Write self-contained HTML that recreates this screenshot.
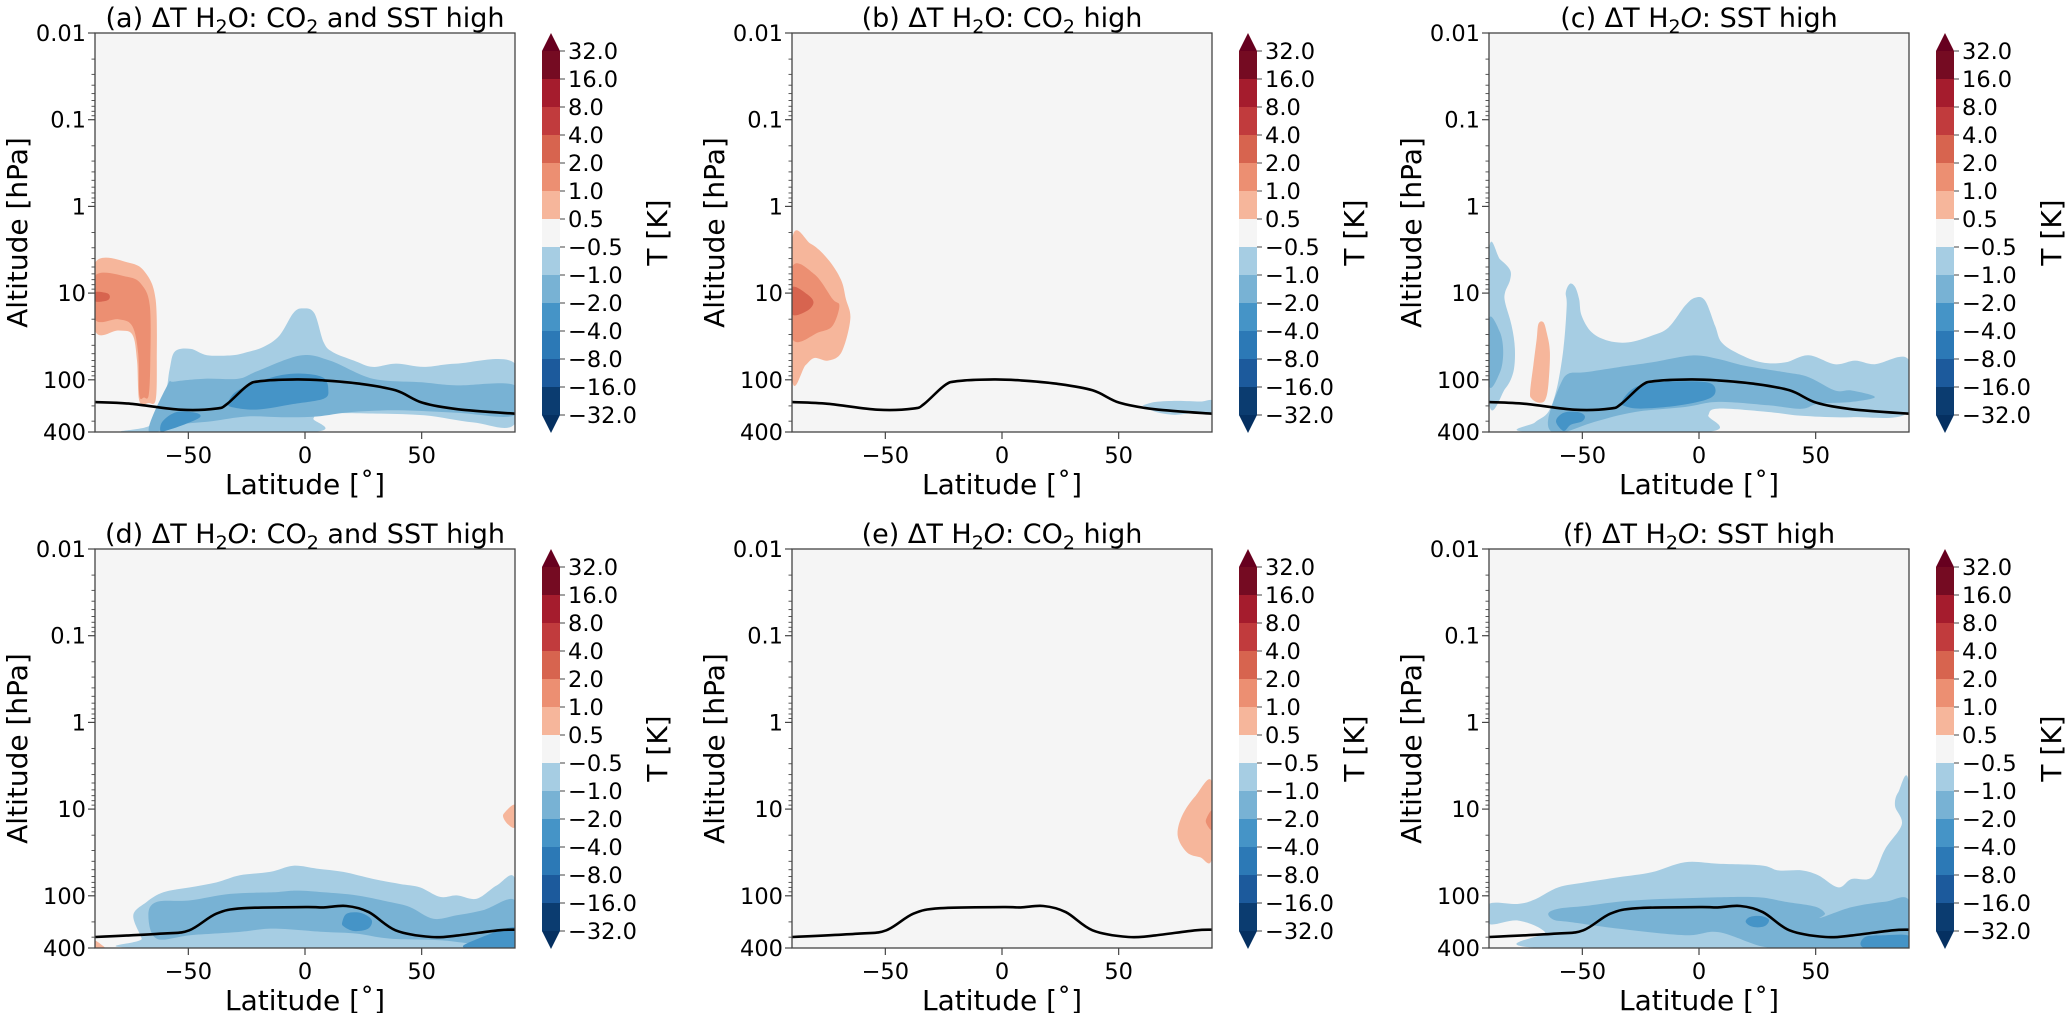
<!DOCTYPE html>
<html><head><meta charset="utf-8"><title>Delta T H2O panels</title>
<style>
html,body{margin:0;padding:0;background:#fff;}
svg{display:block;font-family:"DejaVu Sans","Liberation Sans",sans-serif;}
</style></head>
<body>
<svg id="fig" xmlns="http://www.w3.org/2000/svg" width="2067" height="1013" viewBox="0 0 2067 1013"></svg>
<script>
// ---------- data (latitude [deg], pressure [hPa]) ----------
const bandColors = ['#0b3c70','#1c5a9c','#2c79b6','#4594c7','#78b2d4','#a6cde3','#f5f5f5','#f6b69b','#ec8f72','#d7644f','#c13b3d','#a51c2d','#750b22'];
const cbTickLabels = ['32.0','16.0','8.0','4.0','2.0','1.0','0.5','\u22120.5','\u22121.0','\u22122.0','\u22124.0','\u22128.0','\u221216.0','\u221232.0'];
const yTickValues = [0.01,0.1,1,10,100,400];
const yTickLabels = ['0.01','0.1','1','10','100','400'];
const xTickValues = [-50,0,50];
const xTickLabels = ['\u221250','0','50'];

const tropoRow1 = [[-90,181],[-74.6,189],[-53.4,221],[-38,215],[-33.3,189],[-24.6,116],[-18.9,103.5],[-3.5,99],[8,101.6],[23.4,111],[38.8,132],[50.4,184],[65.7,219],[90,246]];
const tropoRow2 = [[-90,299],[-61,273],[-49.6,250],[-38,161],[-26.5,139],[0.4,135],[8,136],[17.7,131],[27.3,154],[38.8,250],[54.2,299],[65.7,286],[83,250],[90,246]];

// panel a
const aBlueLight = [[-75,400],[-66,330],[-60,150],[-58,75],[-55.7,47],[-49,44],[-42,52],[-31,52],[-25,48],[-18,42],[-11,31],[-5,17],[-1,15],[4,17],[8,37],[12,48],[21,60],[29,71],[39,65],[51,71],[65,65],[90,65],[90,320],[72,310],[51,257],[29,245],[8,245],[3.6,280],[3,400]];
const aBlueMid = [[-67,390],[-59,116],[-56,105],[-43,97],[-28.6,97],[-20.7,80],[-2,52.5],[10.7,60],[29,97],[50,107],[65,116],[90,116],[90,257],[65,240],[40,225],[20,235],[5,265],[-10,270],[-25,265],[-40,300],[-55,330]];
const aBlueDark1 = [[-62,390],[-61,300],[-55,235],[-47,240],[-45,270],[-52,330],[-60,390]];
const aBlueDark2 = [[-33,190],[-30,140],[-22,110],[-10,88],[0,85],[8,95],[10,130],[8,165],[-5,190],[-20,220],[-30,210]];
const aRedOuter = [[-90,4.5],[-75,4.5],[-68,6],[-64,12],[-63.5,60],[-64,170],[-67,185],[-71,175],[-72,60],[-74,30],[-80,27],[-90,27]];
const aRedMid = [[-90,6.3],[-76,6.5],[-70,8],[-66.5,14],[-66.3,60],[-67,150],[-69,160],[-71,150],[-71.5,50],[-74,24],[-80,20],[-90,20]];
const aRedInner = [[-90,9.8],[-85,10],[-83.6,11],[-85,12.2],[-90,12.4]];

// panel b
const bRedOuter = [[-90,2.44],[-82,2.7],[-74.6,4.06],[-69,7],[-66.9,11.7],[-65,20],[-68.8,48],[-74.6,60],[-80.4,56],[-84.2,68],[-90,97.5]];
const bRedMid = [[-90,5.07],[-80.4,6.05],[-72.6,11.7],[-69.7,14],[-72.6,23.8],[-78.5,28.3],[-90,33.2]];
const bRedInner = [[-90,8.6],[-83.5,10.3],[-80.8,12.8],[-83.5,16],[-90,17.4]];
const bBlueLight = [[60.9,195],[66,180],[75,175],[85,178],[90,173],[90,235],[80,245],[73.4,253],[66,235],[60.9,201]];

// panel c
const cBlueLight = [[-73.1,400],[-70.3,310],[-64.6,235],[-61,127],[-58.1,44],[-56.7,14],[-57.1,9.8],[-55.3,7.8],[-53.1,8.5],[-51.4,11.7],[-50.3,18.2],[-46,28.3],[-38.9,35.5],[-30.3,37],[-20.3,31],[-13.1,25],[-6,14],[-1.7,11.3],[2.6,12.2],[6.9,23.8],[9.7,37],[16.9,50],[26.9,63],[36.9,63],[46.9,52],[58.3,66],[66.9,60],[75.4,66],[89.7,58],[90,235],[65.4,270],[44,260],[29.7,235],[8.3,215],[4,257],[3.3,400]];
const cBlueLeftLight = [[-90,3.26],[-85.3,4.07],[-81,5.4],[-81,7.1],[-83.1,9.8],[-83.1,12.8],[-80.3,23.7],[-78.9,44],[-79.6,82],[-83.1,127],[-90,181]];
const cBlueLeftMid = [[-90,19.9],[-85.3,28.3],[-83.9,48],[-85.3,82],[-90,116]];
const cBlueMid = [[-64.6,281],[-59.6,116],[-56,85],[-49,82],[-34.6,71.5],[-20.3,63],[-3.1,52.5],[8.3,57.5],[19.7,69],[36.9,82],[46.9,93],[58.3,133],[65.4,133],[75.4,158],[65.4,180],[51.1,189],[44,216],[29.7,197],[8.3,180],[-6,206],[-27.4,235],[-44.6,305],[-57.4,400],[-63.1,400]];
const cBlueDark1 = [[-61.3,300],[-58,240],[-52,235],[-49,260],[-50,300],[-55,330],[-58,390]];
const cBlueDark2 = [[-33,175],[-28,125],[-20,108],[-5,104],[5,110],[7,140],[3,170],[-10,200],[-25,215],[-32,200]];
const cRed = [[-68.8,22.6],[-66.7,21.7],[-65.3,28.3],[-63.9,48],[-64.6,116],[-66,172],[-68.8,183],[-71.7,165],[-72.4,139],[-71,68.6],[-69.6,34.6]];

// panel d
const dBlueLight = [[-73.6,168],[-67.9,118],[-60.7,91],[-49.3,80],[-37.9,70],[-27.9,58],[-15,53],[-5,45],[5,48.5],[16.4,53],[29.3,64],[40.7,73],[49.3,80],[57.9,103],[65,99],[73.6,108],[82.1,76],[90,64],[90,400],[-69.3,400],[-70,312]];
const dBlueMid = [[-67.1,168],[-63.6,118],[-49.3,113],[-32.1,95],[-13.6,91],[-3.6,87],[7.9,91],[22.1,99],[36.4,118],[45,135],[55,184],[65,168],[76.4,146],[90,113],[90,372],[72.1,356],[57.9,325],[36.4,312],[22.1,273],[7.9,261],[-13.6,239],[-27.9,261],[-49.3,285],[-63.6,312]];
const dBlueDark1 = [[16,200],[18,160],[24,158],[28.6,190],[27,240],[21,255],[16.5,225]];
const dBlueDark2 = [[72,330],[90,230],[90,400],[69,400]];
const dRed1 = [[90,9],[85.5,11],[85,12.5],[87,15],[90,16]];
const dRed2 = [[-90,330],[-87,370],[-86,400],[-90,400]];

// panel e
const eRedOuter = [[90,4.9],[83,7],[77.2,11.9],[75.3,20.3],[79.2,31.5],[84.9,35.9],[90,36.5]];
const eRedInner = [[90,10.5],[87.8,12.5],[87.5,14.5],[90,17.3]];

// panel f
const fBlueLight = [[-90,124],[-77.4,124],[-70.3,110],[-60.3,80],[-48.9,70],[-34.6,61],[-20.3,53.5],[-6,41],[8.3,42.7],[26.9,44.7],[34,51],[44,51],[51.1,58],[59.7,80],[65.4,64],[74,61],[79.7,29],[86.9,15],[84,9.2],[85.4,6.4],[90,5.4],[90,400],[-67.4,400],[-66,262],[-77.4,193],[-90,211]];
const fBlueMid = [[-64.6,160],[-60.3,141],[-48.9,131],[-34.6,117],[-20.3,110],[-6,107],[8.3,104],[25.4,104],[36.9,117],[49.6,133],[54,160],[52,180],[65.4,135],[79.7,117],[90,113],[90,400],[40,400],[26.9,383],[8.3,262],[-6,285],[-34.6,239],[-55,201],[-62,190]];
const fBlueDark1 = [[20,200],[22,175],[27,172],[30,190],[28,225],[23,228]];
const fBlueDark2 = [[71,300],[80,285],[90,290],[90,400],[71,400]];

// ---------- layout ----------
const colLefts = [95,792,1489], rowTops = [33,549];
const PW = 420, PH = 399;
const PMIN = 0.01, PMAX = 400;
const NS = 'http://www.w3.org/2000/svg';
const svg = document.getElementById('fig');
function mk(tag, attrs, parent){ const e=document.createElementNS(NS,tag); for(const k in attrs) e.setAttribute(k,attrs[k]); (parent||svg).appendChild(e); return e; }

const panels = [
 {id:'a',col:0,row:0,title:'(a) \u0394T H<tspan dy="6" font-size="19">2</tspan><tspan dy="-6">O: CO</tspan><tspan dy="6" font-size="19">2</tspan><tspan dy="-6"> and SST high</tspan>',
  shapes:[[5,aBlueLight],[4,aBlueMid],[3,aBlueDark1],[3,aBlueDark2],[7,aRedOuter],[8,aRedMid],[9,aRedInner]], line:tropoRow1},
 {id:'b',col:1,row:0,title:'(b) \u0394T H<tspan dy="6" font-size="19">2</tspan><tspan dy="-6">O: CO</tspan><tspan dy="6" font-size="19">2</tspan><tspan dy="-6"> high</tspan>',
  shapes:[[7,bRedOuter],[8,bRedMid],[9,bRedInner],[5,bBlueLight]], line:tropoRow1},
 {id:'c',col:2,row:0,title:'(c) \u0394T H<tspan dy="6" font-size="19">2</tspan><tspan dy="-6" font-style="italic">O</tspan><tspan>: SST high</tspan>',
  shapes:[[5,cBlueLight],[5,cBlueLeftLight],[4,cBlueLeftMid],[4,cBlueMid],[3,cBlueDark1],[3,cBlueDark2],[7,cRed]], line:tropoRow1},
 {id:'d',col:0,row:1,title:'(d) \u0394T H<tspan dy="6" font-size="19">2</tspan><tspan dy="-6" font-style="italic">O</tspan><tspan>: CO</tspan><tspan dy="6" font-size="19">2</tspan><tspan dy="-6"> and SST high</tspan>',
  shapes:[[5,dBlueLight],[4,dBlueMid],[3,dBlueDark1],[3,dBlueDark2],[7,dRed1],[7,dRed2]], line:tropoRow2},
 {id:'e',col:1,row:1,title:'(e) \u0394T H<tspan dy="6" font-size="19">2</tspan><tspan dy="-6" font-style="italic">O</tspan><tspan>: CO</tspan><tspan dy="6" font-size="19">2</tspan><tspan dy="-6"> high</tspan>',
  shapes:[[7,eRedOuter],[8,eRedInner]], line:tropoRow2},
 {id:'f',col:2,row:1,title:'(f) \u0394T H<tspan dy="6" font-size="19">2</tspan><tspan dy="-6" font-style="italic">O</tspan><tspan>: SST high</tspan>',
  shapes:[[5,fBlueLight],[4,fBlueMid],[3,fBlueDark1],[3,fBlueDark2]], line:tropoRow2}
];

function smooth(pts, closed){
  const n=pts.length; let d='M'+pts[0][0].toFixed(1)+','+pts[0][1].toFixed(1);
  const segs = closed ? n : n-1;
  for(let i=0;i<segs;i++){
    const p0 = closed ? pts[(i-1+n)%n] : pts[Math.max(i-1,0)];
    const p1 = pts[i];
    const p2 = pts[(i+1)%n];
    const p3 = closed ? pts[(i+2)%n] : pts[Math.min(i+2,n-1)];
    const c1=[p1[0]+(p2[0]-p0[0])/6, p1[1]+(p2[1]-p0[1])/6];
    const c2=[p2[0]-(p3[0]-p1[0])/6, p2[1]-(p3[1]-p1[1])/6];
    d+=' C'+c1[0].toFixed(1)+','+c1[1].toFixed(1)+' '+c2[0].toFixed(1)+','+c2[1].toFixed(1)+' '+p2[0].toFixed(1)+','+p2[1].toFixed(1);
  }
  return d+(closed?' Z':'');
}

panels.forEach(P=>{
  const L = colLefts[P.col], T = rowTops[P.row];
  const xs = lat => L + (lat+90)/180*PW;
  const ys = p => T + (Math.log10(p)-Math.log10(PMIN))/(Math.log10(PMAX)-Math.log10(PMIN))*PH;
  const g = mk('g',{});
  
  
  const cp = mk('clipPath',{id:'clip-'+P.id},g);
  mk('rect',{x:L,y:T,width:PW,height:PH},cp);
  const bg = mk('rect',{x:L,y:T,width:PW,height:PH,fill:bandColors[6]},g);
  
  
  const cg = mk('g',{'clip-path':'url(#clip-'+P.id+')'},g);
  P.shapes.forEach((s,i)=>{
    const pts = s[1].map(q=>[xs(q[0]), ys(q[1])]);
    const path = mk('path',{d:smooth(pts,true),fill:bandColors[s[0]],stroke:'none'},cg);
    
    
  });
  const lp = P.line.map(q=>[xs(q[0]), ys(q[1])]);
  const line = mk('path',{d:smooth(lp,false),fill:'none',stroke:'#000','stroke-width':2.6},cg);
  
  
  const frame = mk('rect',{x:L,y:T,width:PW,height:PH,fill:'none',stroke:'#444','stroke-width':1.3},g);
  
  
  // y ticks
  yTickValues.forEach((v,i)=>{
    const y=ys(v);
    mk('line',{x1:L-7,x2:L,y1:y,y2:y,stroke:'#444','stroke-width':1.2},g);
    const t=mk('text',{x:L-9,y:y+8,'text-anchor':'end','font-size':22.5,fill:'#000'},g);
    t.textContent=yTickLabels[i];
    
    
  });
  for(let e=-2;e<=2;e++){ for(let m=2;m<=9;m++){ const v=m*Math.pow(10,e); if(v>=PMAX) continue; const y=ys(v);
    mk('line',{x1:L-3.5,x2:L,y1:y,y2:y,stroke:'#444','stroke-width':0.9},g);} }
  // x ticks
  xTickValues.forEach((v,i)=>{
    const x=xs(v);
    mk('line',{x1:x,x2:x,y1:T+PH,y2:T+PH+7,stroke:'#444','stroke-width':1.2},g);
    const t=mk('text',{x:x,y:T+PH+31,'text-anchor':'middle','font-size':22.5,fill:'#000'},g);
    t.textContent=xTickLabels[i];
    
    
  });
  const xl=mk('text',{x:L+PW/2,y:T+PH+62,'text-anchor':'middle','font-size':28,fill:'#000'},g);
  xl.textContent='Latitude [\u02da]';
  
  
  const yl=mk('text',{x:0,y:0,'text-anchor':'middle','font-size':28,fill:'#000',transform:'translate('+(L-68)+','+(T+PH/2)+') rotate(-90)'},g);
  yl.textContent='Altitude [hPa]';
  
  
  const tt=mk('text',{x:L+PW/2,y:T-6,'text-anchor':'middle','font-size':27,fill:'#000'},g);
  tt.innerHTML=P.title;
  
  
  // colorbar
  const cx=L+PW+27, cw=18, tri=18, bh=28;
  const cb=mk('g',{},g);
  
  
  const y0=T+tri;
  for(let k=0;k<13;k++){
    const idx=12-k;
    mk('rect',{x:cx,y:y0+k*bh,width:cw,height:bh+0.5,fill:bandColors[idx]},cb);
  }
  mk('polygon',{points:(cx)+','+(y0)+' '+(cx+cw)+','+(y0)+' '+(cx+cw/2)+','+(T),fill:'#67001f'},cb);
  const yb=y0+13*bh;
  mk('polygon',{points:(cx)+','+(yb)+' '+(cx+cw)+','+(yb)+' '+(cx+cw/2)+','+(yb+tri),fill:'#053061'},cb);
  cbTickLabels.forEach((s,k)=>{
    const y=y0+k*bh;
    mk('line',{x1:cx+cw,x2:cx+cw+5,y1:y,y2:y,stroke:'#444','stroke-width':1},cb);
    const t=mk('text',{x:cx+cw+8,y:y+8,'font-size':22.5,fill:'#000'},cb);
    t.textContent=s;
    
    
  });
  const cl=mk('text',{x:0,y:0,'text-anchor':'middle','font-size':28,fill:'#000',transform:'translate('+(L+PW+152)+','+(T+PH/2)+') rotate(-90)'},cb);
  cl.textContent='T [K]';
  
  
});
</script>
</body></html>
